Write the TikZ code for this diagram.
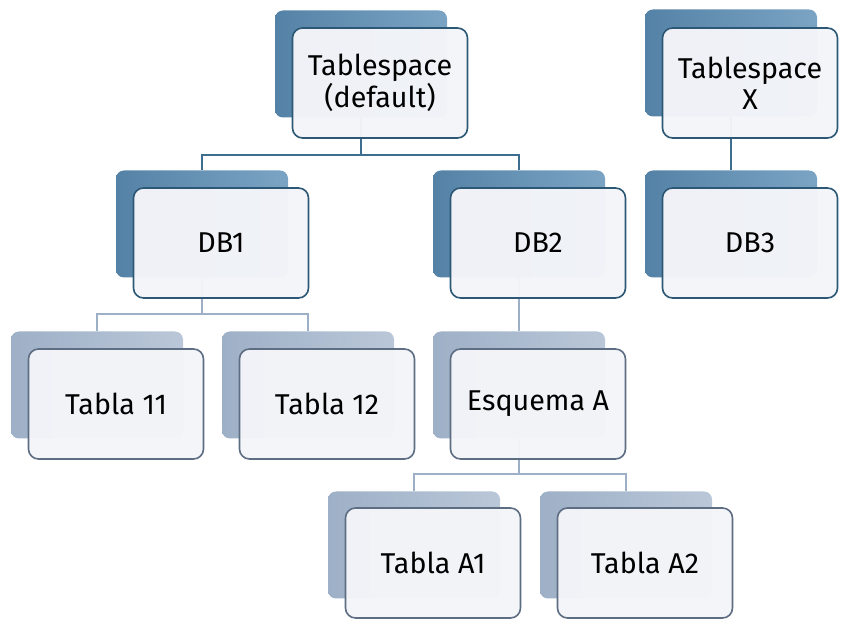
\documentclass[tikz,border=0pt]{standalone}
\usepackage{fontspec}
\setmainfont{Fira Sans}
\usetikzlibrary{calc}
\definecolor{darkL}{HTML}{5482A6}
\definecolor{darkR}{HTML}{7BA4C4}
\definecolor{lightL}{HTML}{9EB0C7}
\definecolor{lightR}{HTML}{BAC7D8}
\definecolor{darkEdge}{HTML}{2C5775}
\definecolor{lightEdge}{HTML}{5D6D82}
\definecolor{darkLine}{HTML}{3E6E8F}
\definecolor{lightLine}{HTML}{9DB0C8}
\definecolor{frontFill}{HTML}{F4F5F9}
\tikzset{
  backbox/.style={rectangle, rounded corners=8*0.75pt, minimum width=172*0.75pt, minimum height=107*0.75pt, inner sep=0pt, draw=none},
  backdark/.style={backbox, left color=darkL, right color=darkR},
  backlight/.style={backbox, left color=lightL, right color=lightR},
  frontbox/.style={rectangle, rounded corners=10*0.75pt, minimum width=175*0.75pt, minimum height=110*0.75pt, inner sep=0pt, fill=frontFill, fill opacity=0.97, text opacity=1, line width=1.2pt, align=center, font=\fontsize{21.5}{23.5}\selectfont, text=black},
  frontdark/.style={frontbox, draw=darkEdge},
  frontlight/.style={frontbox, draw=lightEdge},
  linedark/.style={draw=darkLine, line width=2pt},
  linelight/.style={draw=lightLine, line width=2pt},
}
\begin{document}
\begin{tikzpicture}[x=0.75pt, y=-0.75pt]
\useasboundingbox (0,0) rectangle (850,630);
% back boxes
\node[backdark]  (t0b)  at (361,64) {};
\node[backdark]  (txb)  at (731,63) {};
\node[backdark]  (db1b) at (202,224) {};
\node[backdark]  (db2b) at (519,224) {};
\node[backdark]  (db3b) at (731,224) {};
\node[backlight] (t11b) at (97,385) {};
\node[backlight] (t12b) at (308,385) {};
\node[backlight] (eab)  at (519,385) {};
\node[backlight] (a1b)  at (414,545) {};
\node[backlight] (a2b)  at (626,545) {};
% connector levels
\coordinate (h0) at (0,155);
\coordinate (h1) at (0,314);
\coordinate (h2) at (0,474);
\draw[linedark] (t0b.south) -- (t0b.south |- h0) -| (db1b.north);
\draw[linedark] (t0b.south) -- (t0b.south |- h0) -| (db2b.north);
\draw[linedark] (txb.south) -- (db3b.north);
\draw[linelight] (db1b.south) -- (db1b.south |- h1) -| (t11b.north);
\draw[linelight] (db1b.south) -- (db1b.south |- h1) -| (t12b.north);
\draw[linelight] (db2b.south) -- (eab.north);
\draw[linelight] (eab.south) -- (eab.south |- h2) -| (a1b.north);
\draw[linelight] (eab.south) -- (eab.south |- h2) -| (a2b.north);
% front boxes
\node[frontdark]  (t0)  at ($(t0b)+(19,19)$)  {Tablespace\\(default)};
\node[frontdark]  (tx)  at ($(txb)+(19,20)$)  {Tablespace\\X};
\node[frontdark]  (db1) at ($(db1b)+(19,19)$) {DB1};
\node[frontdark]  (db2) at ($(db2b)+(19,19)$) {DB2};
\node[frontdark]  (db3) at ($(db3b)+(19,19)$) {DB3};
\node[frontlight] (t11) at ($(t11b)+(19,19)$) {Tabla 11};
\node[frontlight] (t12) at ($(t12b)+(19,19)$) {Tabla 12};
\node[frontlight] (ea)  at ($(eab)+(19,19)$)  {Esquema A};
\node[frontlight] (a1)  at ($(a1b)+(19,18)$)  {Tabla A1};
\node[frontlight] (a2)  at ($(a2b)+(19,18)$)  {Tabla A2};
\end{tikzpicture}
\end{document}
